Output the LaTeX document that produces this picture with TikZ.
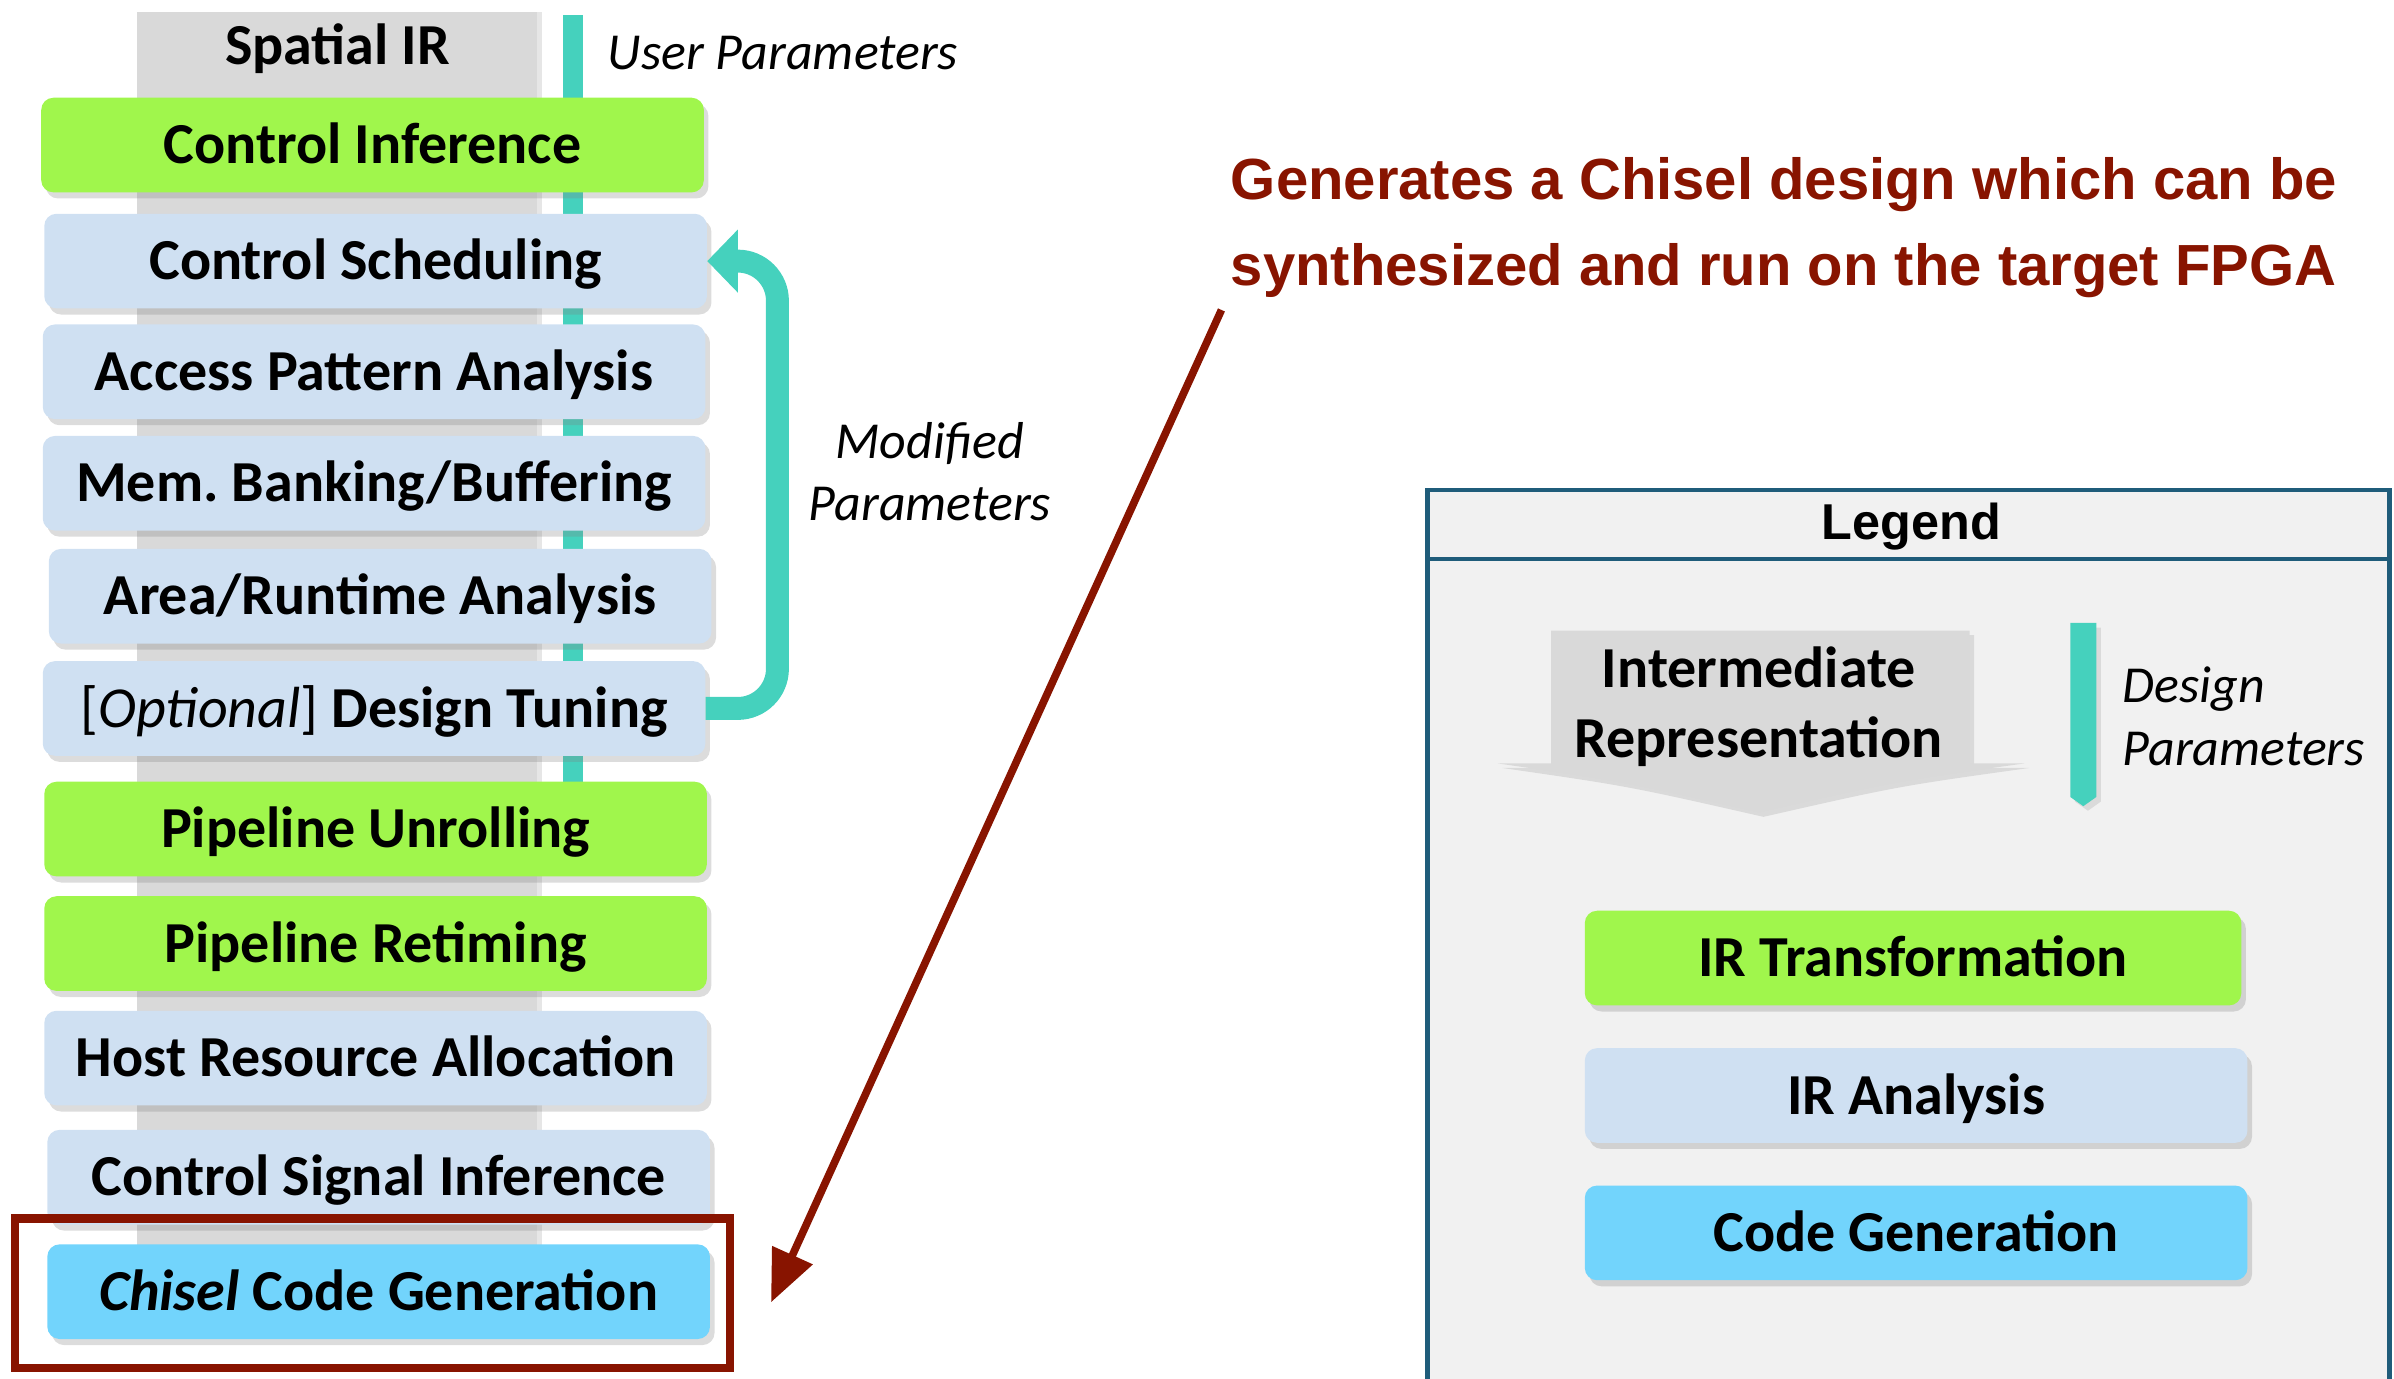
\documentclass[tikz,border=0pt]{standalone}
\usepackage{fontspec}
\setmainfont{Carlito}
\newfontfamily\arialfont{Liberation Sans}
\usetikzlibrary{arrows.meta,shadows}
\definecolor{IRgreen}{HTML}{A0F64C}
\definecolor{IRblue}{HTML}{CFE0F2}
\definecolor{CGcyan}{HTML}{72D4FC}
\definecolor{bandgray}{HTML}{D9D9D9}
\definecolor{paramteal}{HTML}{45D1BD}
\definecolor{noteRed}{HTML}{881400}
\definecolor{legendblue}{HTML}{1F5C7A}
\definecolor{legendfill}{HTML}{F1F1F1}

\tikzset{
  passbox/.style={rounded corners=8pt, minimum width=434pt, minimum height=62pt,
    inner sep=0pt, text height=28pt, text depth=3.5pt,
    font=\fontsize{38}{44}\selectfont\bfseries,
    drop shadow={shadow xshift=3pt, shadow yshift=-4pt, opacity=0.28}},
  xform/.style={passbox, fill=IRgreen},
  analysis/.style={passbox, fill=IRblue},
  codegen/.style={passbox, fill=CGcyan},
  paramtext/.style={font=\fontsize{34}{41}\selectfont\itshape, inner sep=0pt},
}

\begin{document}
\begin{tikzpicture}[x=1pt, y=-1pt]
    \useasboundingbox (0,0) rectangle (1568,903);

%   IR band and user parameters
    \fill[bandgray, drop shadow={shadow xshift=3pt, shadow yshift=0pt, opacity=0.2}] (90,8) rectangle (352,872);
    \node[font=\fontsize{38}{44}\selectfont\bfseries] (spatial) at (221,32) {Spatial IR};
    \fill[paramteal] (369,10) rectangle (382,520);
    \node[paramtext, anchor=west] (userpar) at (398,35) {User Parameters};

%   passes
    \node[xform]    (ctrlinf)   at (244,95)    {Control Inference};
    \node[analysis] (ctrlsched) at (246,171)   {Control Scheduling};
    \node[analysis] (access)    at (245,243.5) {Access Pattern Analysis};
    \node[analysis] (membank)   at (245,316.5) {Mem.\ Banking/Buffering};
    \node[analysis] (arearun)   at (249,390.5) {Area/Runtime Analysis};
    \node[analysis] (tuning)    at (245,464)   {\mdseries[\textit{Optional}] \bfseries Design Tuning};
    \node[xform]    (unroll)    at (246,543)   {Pipeline Unrolling};
    \node[xform]    (retime)    at (246,618)   {Pipeline Retiming};
    \node[analysis] (hostres)   at (246,693)   {Host Resource Allocation};
    \node[analysis] (ctrlsig)   at (248,771)   {Control Signal Inference};
    \node[codegen]  (chisel)    at (248,846)   {\textit{Chisel} Code Generation};

%   feedback loop
    \draw[paramteal, line width=15pt, rounded corners=26pt,
          -{Triangle[length=20pt,width=40pt]}]
          (tuning.east) -- ++(47,0) |- (ctrlsched.east);
    \node[paramtext, align=center] (modpar) at (609,309) {Modified\\Parameters};

%   chisel output
    \node[draw=noteRed, line width=5.5pt, minimum width=468pt, minimum height=98pt] (chiselframe) at (244,847) {};
    \node[anchor=west, align=left, text=noteRed, inner sep=0pt,
          font=\arialfont\fontsize{38}{56}\selectfont\bfseries] (note) at (806,149)
          {Generates a Chisel design which can be\\synthesized and run on the target FPGA};
    \coordinate (notefoot) at (800,203);
    \coordinate (chiseltip) at (505,853);
    \draw[noteRed, line width=5pt, -{Triangle[length=34pt,width=28pt]}] (notefoot) -- (chiseltip);

%   legend
    \draw[legendblue, line width=3pt, fill=legendfill] (935,321) rectangle (1565,930);
    \draw[legendblue, line width=3pt] (935,366) -- (1565,366);
    \node[font=\arialfont\fontsize{33}{38}\selectfont\bfseries] (legend) at (1252,345) {Legend};
    \fill[bandgray, drop shadow={shadow xshift=3pt, shadow yshift=-3pt, opacity=0.2}]
        (1016,413) -- (1290,413) -- (1290,500) -- (1326,500)
        .. controls (1240,512) .. (1152,532) .. controls (1064,512) .. (981,500)
        -- (1016,500) -- cycle;
    \node[align=center, font=\fontsize{38}{46}\selectfont\bfseries] (irlbl) at (1152,463) {Intermediate\\Representation};
    \fill[paramteal, drop shadow={shadow xshift=3pt, shadow yshift=-3pt, opacity=0.2}]
        (1356,408) -- (1373,408) -- (1373,522) -- (1364.5,528) -- (1356,522) -- cycle;
    \node[paramtext, anchor=west, align=left] (despar) at (1390,469) {Design\\Parameters};
    \node[xform, minimum width=430pt] (legxform) at (1253,627.5) {IR Transformation};
    \node[analysis] (leganalysis) at (1255,717.5) {IR Analysis};
    \node[codegen]  (legcodegen)  at (1255,807.5) {Code Generation};
\end{tikzpicture}
\end{document}
